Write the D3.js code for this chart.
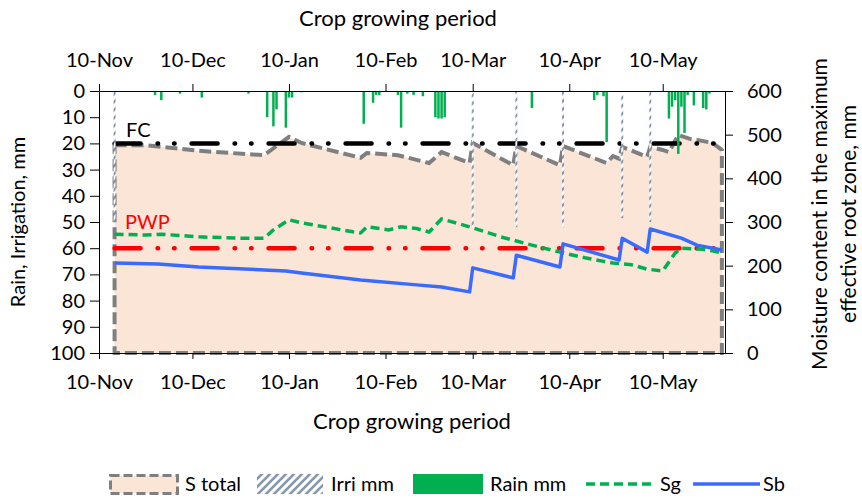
<!DOCTYPE html>
<html>
<head>
<meta charset="utf-8">
<script src="https://cdn.jsdelivr.net/npm/d3@7"></script>
<style>
    body { margin: 0; background: #fff; }
    text { font-family: Lato, "Open Sans", sans-serif; fill: #000; }
</style>
</head>
<body>
<svg id="chart" width="862" height="500"></svg>
<script>
const parse = d3.timeParse("%Y-%m-%d")

const tickDates = ["2014-11-10", "2014-12-10", "2015-01-10", "2015-02-10", "2015-03-10", "2015-04-10", "2015-05-10"]
const leftTicks = [0, 10, 20, 30, 40, 50, 60, 70, 80, 90, 100]
const rightTicks = [0, 100, 200, 300, 400, 500, 600]

const rainDates = ["2014-11-28", "2014-11-30", "2014-12-06", "2014-12-13", "2014-12-28", "2015-01-03", "2015-01-05",
    "2015-01-06", "2015-01-09", "2015-01-10", "2015-01-11", "2015-01-14", "2015-02-03", "2015-02-06", "2015-02-07",
    "2015-02-08", "2015-02-14", "2015-02-15", "2015-02-17", "2015-02-19", "2015-02-22", "2015-02-26", "2015-02-27",
    "2015-02-28", "2015-03-01", "2015-03-29", "2015-04-18", "2015-04-19", "2015-04-21", "2015-04-22", "2015-05-12",
    "2015-05-13", "2015-05-14", "2015-05-15", "2015-05-16", "2015-05-17", "2015-05-18", "2015-05-20", "2015-05-23",
    "2015-05-24", "2015-05-25"]
const rainMm = [1.5, 3.5, 1, 2.5, 1, 10, 13.5,
    7, 14, 2.5, 2.5, 0.5, 12.5, 4.5, 1.5,
    1.5, 1.5, 14, 1, 1.5, 2, 10, 10.5,
    10.5, 10, 6.5, 3.5, 1.5, 2, 19.5, 10.5,
    6, 3.5, 24, 6, 16, 1.5, 5.5, 6.5,
    7, 1]

const irriDates = ["2014-11-15", "2015-03-10", "2015-03-24", "2015-04-08", "2015-04-27", "2015-05-06"]
const irriMm = [50, 52, 52, 52, 48.5, 50]

const sTotalDates = ["2014-11-15", "2014-11-25", "2014-12-12", "2015-01-02", "2015-01-10", "2015-01-14", "2015-02-02",
    "2015-02-04", "2015-02-14", "2015-02-24", "2015-02-28", "2015-03-09", "2015-03-10", "2015-03-23", "2015-03-24",
    "2015-04-07", "2015-04-08", "2015-04-22", "2015-04-24", "2015-04-26", "2015-04-27", "2015-05-05", "2015-05-06",
    "2015-05-10", "2015-05-12", "2015-05-15", "2015-05-19", "2015-05-21", "2015-05-26", "2015-05-29"]
const sTotal = [476, 476, 463, 453, 495, 481, 447,
    458, 453, 435, 460, 435, 481, 430, 474,
    430, 474, 435, 451, 445, 472, 449, 472,
    465, 460, 499, 490, 488, 481, 465]

const sgDates = ["2014-11-15", "2014-11-25", "2014-11-30", "2014-12-12", "2014-12-25", "2015-01-02", "2015-01-05",
    "2015-01-10", "2015-01-14", "2015-01-31", "2015-02-02", "2015-02-04", "2015-02-11", "2015-02-15", "2015-02-20",
    "2015-02-24", "2015-02-28", "2015-03-09", "2015-03-19", "2015-03-29", "2015-04-07", "2015-04-15", "2015-04-24",
    "2015-04-30", "2015-05-05", "2015-05-10", "2015-05-14", "2015-05-16", "2015-05-22", "2015-05-26", "2015-05-29"]
const sg = [272, 270, 272, 266, 263, 263, 282,
    305, 298, 277, 275, 289, 282, 289, 285,
    277, 307, 289, 266, 247, 231, 218, 206,
    202, 192, 188, 229, 240, 238, 234, 229]

const sbDates = ["2014-11-15", "2014-11-29", "2014-12-12", "2015-01-09", "2015-01-14", "2015-02-02", "2015-02-20",
    "2015-02-28", "2015-03-09", "2015-03-10", "2015-03-23", "2015-03-24", "2015-04-07", "2015-04-08", "2015-04-26",
    "2015-04-27", "2015-05-05", "2015-05-06", "2015-05-16", "2015-05-21", "2015-05-29"]
const sb = [206, 204, 197, 188, 183, 167, 156,
    151, 140, 195, 172, 224, 197, 250, 213,
    263, 231, 284, 263, 247, 236]

const levelDates = ["2014-11-15", "2015-05-29"]
const fcLevel = [480, 480]
const pwpLevel = [240, 240]

const legendNames = ["S total", "Irri mm", "Rain mm", "Sg", "Sb"]

function zip(dates, values) {
    return dates.map((d, i) => ({ date: parse(d), v: values[i] }))
}

const svg = d3.select("#chart")
const fmt = d3.timeFormat("%d-%b")

const x = d3.scaleTime().domain([parse("2014-11-10"), parse("2015-05-30")]).range([99, 725])
const yL = d3.scaleLinear().domain([0, 100]).range([91, 353])
const yR = d3.scaleLinear().domain([0, 600]).range([353, 91])
const dayW = x(parse("2014-11-11")) - x(parse("2014-11-10"))

const defs = svg.append("defs")
const pat = defs.append("pattern")
    .attr("id", "irriPat")
    .attr("patternUnits", "userSpaceOnUse")
    .attr("width", 8).attr("height", 8)
pat.append("rect").attr("width", 8).attr("height", 8).attr("fill", "#fff")
pat.append("path")
    .attr("d", "M-2,2 L2,-2 M0,8 L8,0 M6,10 L10,6")
    .attr("stroke", "#8497b0").attr("stroke-width", 2.6)

// S total area with dashed border
const sData = zip(sTotalDates, sTotal)
svg.append("path")
    .datum(sData)
    .attr("d", d3.area().x(d => x(d.date)).y0(yR(0)).y1(d => yR(d.v)))
    .attr("fill", "#fbe5d6")
    .attr("stroke", "#7f7f7f")
    .attr("stroke-width", 4)
    .attr("stroke-dasharray", "12 5")

const line = d3.line().x(d => x(d.date)).y(d => yR(d.v))

// FC and PWP reference lines
const levels = [{ values: fcLevel, color: "#000" }, { values: pwpLevel, color: "#ff0000" }]
svg.selectAll("path.level").data(levels).enter().append("path")
    .classed("level", true)
    .attr("d", d => line(zip(levelDates, d.values)))
    .attr("fill", "none")
    .attr("stroke", d => d.color)
    .attr("stroke-width", 4.5)
    .attr("stroke-linecap", "round")
    .attr("stroke-dasharray", "26 17 0.5 16 0.5 17")

// irrigation and rain columns hang down from the top axis
svg.selectAll("rect.irri").data(zip(irriDates, irriMm)).enter().append("rect")
    .classed("irri", true)
    .attr("x", d => x(d.date) - 1)
    .attr("y", yL(0))
    .attr("width", 2)
    .attr("height", d => yL(d.v) - yL(0))
    .attr("fill", "url(#irriPat)")

svg.selectAll("rect.rain").data(zip(rainDates, rainMm)).enter().append("rect")
    .classed("rain", true)
    .attr("x", d => x(d.date) - dayW * 0.4)
    .attr("y", yL(0))
    .attr("width", dayW * 0.8)
    .attr("height", d => yL(d.v) - yL(0))
    .attr("fill", "#00b050")

svg.append("path")
    .datum(zip(sgDates, sg))
    .attr("d", line)
    .attr("fill", "none")
    .attr("stroke", "#00b050")
    .attr("stroke-width", 3.5)
    .attr("stroke-dasharray", "9 5")

svg.append("path")
    .datum(zip(sbDates, sb))
    .attr("d", line)
    .attr("fill", "none")
    .attr("stroke", "#3a6bff")
    .attr("stroke-width", 3.5)
    .attr("stroke-linejoin", "round")

svg.append("text").attr("x", 126).attr("y", 137).attr("font-size", 20).text("FC")
svg.append("text").attr("x", 125).attr("y", 229).attr("font-size", 20).style("fill", "#ff0000").text("PWP")

// axes
const dates = tickDates.map(parse)
function styleAxis(g) {
    g.selectAll("path, line").attr("stroke", "#000")
    g.selectAll("text").attr("font-size", 20).attr("font-family", "Lato, 'Open Sans', sans-serif").attr("fill", "#000")
}

svg.append("g")
    .attr("transform", `translate(0,${yL(0)})`)
    .call(d3.axisTop(x).tickValues(dates).tickFormat(fmt).tickSize(7).tickSizeOuter(0).tickPadding(17))
    .call(styleAxis)

svg.append("g")
    .attr("transform", `translate(0,${yL(100)})`)
    .call(d3.axisBottom(x).tickValues(dates).tickFormat(fmt).tickSize(6).tickSizeOuter(0).tickPadding(16))
    .call(styleAxis)

svg.append("g")
    .attr("transform", `translate(${x.range()[0]},0)`)
    .call(d3.axisLeft(yL).tickValues(leftTicks).tickSize(9).tickSizeOuter(0).tickPadding(5))
    .call(styleAxis)

svg.append("g")
    .attr("transform", `translate(${x.range()[1]},0)`)
    .call(d3.axisRight(yR).tickValues(rightTicks).tickSize(8).tickSizeOuter(0).tickPadding(14))
    .call(styleAxis)

svg.append("text").attr("x", 398).attr("y", 26).attr("text-anchor", "middle").attr("font-size", 22).text("Crop growing period")
svg.append("text").attr("x", 412).attr("y", 429).attr("text-anchor", "middle").attr("font-size", 22).text("Crop growing period")
svg.append("text")
    .attr("transform", "translate(25,222) rotate(-90)")
    .attr("text-anchor", "middle").attr("font-size", 20)
    .text("Rain, Irrigation, mm")
svg.append("text")
    .attr("transform", "translate(827,214) rotate(-90)")
    .attr("text-anchor", "middle").attr("font-size", 21)
    .text("Moisture content in the maximum")
svg.append("text")
    .attr("transform", "translate(856,214) rotate(-90)")
    .attr("text-anchor", "middle").attr("font-size", 21)
    .text("effective root zone, mm")

// legend
const legendX = [109, 257, 413, 586, 693]
const lg = svg.append("g")
lg.append("rect").attr("x", legendX[0] + 1.5).attr("y", 475.5).attr("width", 67).attr("height", 18)
    .attr("fill", "#fbe5d6").attr("stroke", "#7f7f7f").attr("stroke-width", 3).attr("stroke-dasharray", "9 4")
lg.append("rect").attr("x", legendX[1]).attr("y", 474).attr("width", 66).attr("height", 20).attr("fill", "url(#irriPat)")
lg.append("rect").attr("x", legendX[2]).attr("y", 474).attr("width", 70).attr("height", 20).attr("fill", "#00b050")
lg.append("line").attr("x1", legendX[3]).attr("x2", legendX[3] + 68).attr("y1", 484).attr("y2", 484)
    .attr("stroke", "#00b050").attr("stroke-width", 3.5).attr("stroke-dasharray", "9 5")
lg.append("line").attr("x1", legendX[4]).attr("x2", legendX[4] + 67).attr("y1", 484).attr("y2", 484)
    .attr("stroke", "#3a6bff").attr("stroke-width", 3.5)
const legendTextX = [185, 331, 490, 660, 763]
lg.selectAll("text").data(legendNames).enter().append("text")
    .attr("x", (d, i) => legendTextX[i])
    .attr("y", 491)
    .attr("font-size", 20)
    .text(d => d)
</script>
</body>
</html>
